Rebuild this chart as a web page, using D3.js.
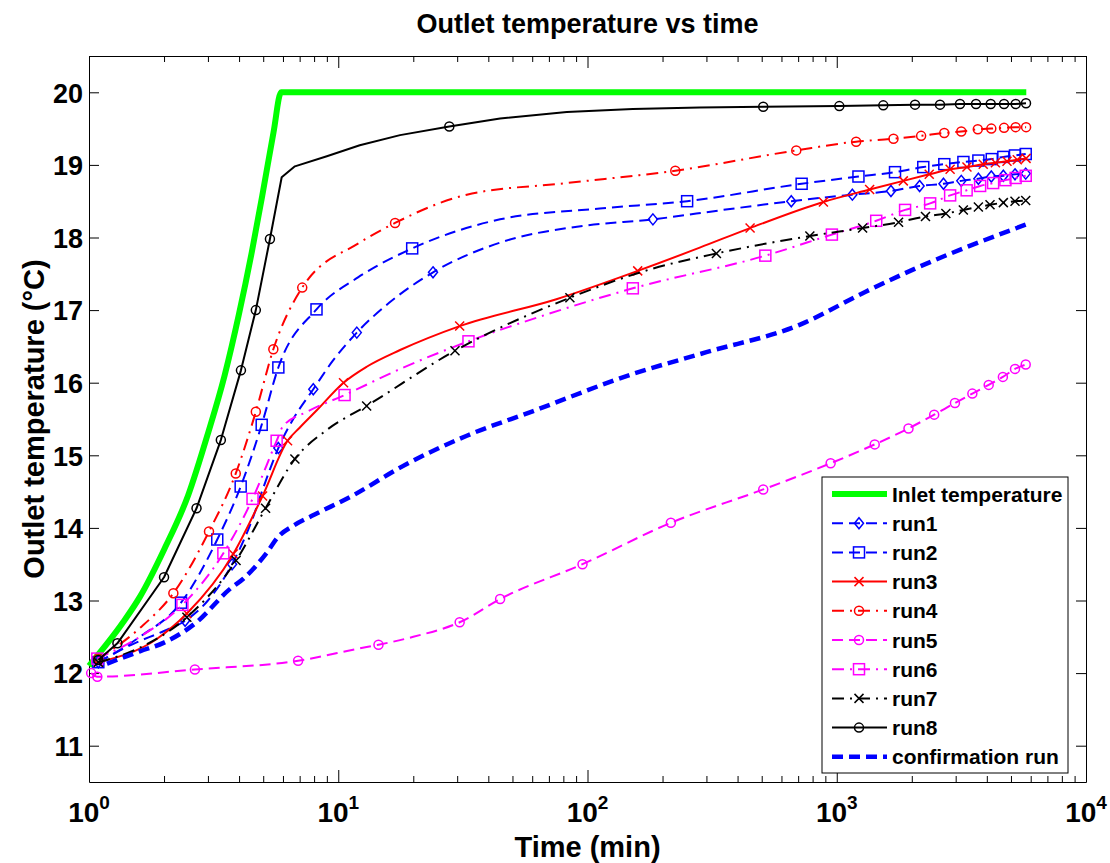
<!DOCTYPE html>
<html>
<head>
<meta charset="utf-8">
<script src="https://cdn.jsdelivr.net/npm/d3@7"></script>
<style>
body { margin: 0; background: #fff; }
text { font-family: 'Liberation Sans', Arial, sans-serif; font-weight: bold; }
</style>
</head>
<body>
<script>
// values: [time (min), temperature (°C)]
const xTicks = [1, 10, 100, 1000, 10000]
const xTickExp = ['0', '1', '2', '3', '4']
const yTicks = [11, 12, 13, 14, 15, 16, 17, 18, 19, 20]

const inlet = [[1, 12.1], [1.37, 12.7], [1.6, 13.05], [2, 13.7], [2.5, 14.45], [3, 15.3], [3.5, 16.1], [4, 16.95],
    [4.5, 17.8], [5, 18.65], [5.5, 19.45], [5.9, 20], [5760, 20]]

const run1_marks = [[1.09, 12.15], [2.43, 12.72], [3.75, 13.5], [5.75, 15.1], [7.94, 15.91], [11.87, 16.69], [24, 17.52],
    [183, 18.25], [657, 18.5], [1155, 18.59], [1650, 18.64], [2150, 18.71], [2680, 18.74], [3160, 18.78], [3700, 18.81],
    [4170, 18.84], [4660, 18.85], [5190, 18.87], [5730, 18.88]]
const run1_path = [[1.5, 12.4], [2, 12.58], [3, 13], [4.5, 14.1], [5, 14.55], [6.6, 15.5], [9.5, 16.3], [16, 17.1],
    [44.6, 17.93], [96, 18.16], [350, 18.38]]

const run2_marks = [[1.09, 12.15], [2.34, 12.97], [3.27, 13.84], [4.06, 14.57], [4.93, 15.42], [5.75, 16.21], [8.18, 17.01],
    [19.8, 17.85], [251, 18.5], [723, 18.74], [1222, 18.84], [1713, 18.9], [2224, 18.97], [2701, 19.01], [3222, 19.04],
    [3700, 19.06], [4187, 19.08], [4660, 19.11], [5190, 19.13], [5730, 19.15]]
const run2_path = [[1.6, 12.5], [12, 17.45], [44.6, 18.25], [112, 18.4]]

const run3_marks = [[1.09, 12.15], [2.47, 12.82], [3.79, 13.64], [4.97, 14.44], [6.26, 15.2], [10.5, 16], [30.7, 16.78],
    [159, 17.54], [449, 18.13], [884, 18.49], [1355, 18.66], [1850, 18.78], [2350, 18.87], [2850, 18.94], [3330, 18.97],
    [3870, 19.01], [4330, 19.03], [4820, 19.05], [5300, 19.07], [5750, 19.09]]
const run3_path = [[1.87, 12.47], [7, 15.38], [8.2, 15.62], [13, 16.22], [17.7, 16.45], [75, 17.15], [282, 17.86]]

const run4_marks = [[1.09, 12.2], [2.18, 13.1], [3.03, 13.95], [3.88, 14.75], [4.67, 15.6], [5.49, 16.46], [7.17, 17.31],
    [16.9, 18.2], [225, 18.92], [688, 19.2], [1196, 19.32], [1689, 19.36], [2180, 19.4], [2700, 19.44], [3160, 19.46],
    [3680, 19.49], [4170, 19.5], [4690, 19.51], [5220, 19.52], [5750, 19.52]]
const run4_path = [[1.6, 12.62], [12.2, 17.93], [32.8, 18.59], [82.6, 18.75]]

const run5_marks = [[1.02, 12], [1.08, 11.95], [2.66, 12.05], [6.9, 12.17], [14.5, 12.39], [30.7, 12.7], [44.6, 13.02],
    [95.5, 13.5], [216, 14.07], [507, 14.53], [945, 14.89], [1420, 15.15], [1940, 15.37], [2460, 15.56], [2980, 15.72],
    [3500, 15.85], [4070, 15.97], [4640, 16.08], [5190, 16.19], [5730, 16.25]]
const run5_path = [[12.2, 12.34], [20, 12.5]]

const run6_marks = [[1.08, 12.2], [2.37, 12.94], [3.46, 13.65], [4.53, 14.4], [5.66, 15.2], [10.6, 15.83], [33.3, 16.57],
    [152, 17.3], [517, 17.75], [956, 18.04], [1440, 18.23], [1880, 18.38], [2370, 18.47], [2850, 18.58], [3320, 18.65],
    [3760, 18.71], [4240, 18.75], [4750, 18.79], [5220, 18.82], [5730, 18.85]]
const run6_path = [[1.6, 12.5], [6, 15.4], [7.5, 15.6], [18, 16.2], [70, 16.95]]

const run7_marks = [[1.09, 12.15], [2.47, 12.77], [3.89, 13.55], [5.11, 14.27], [6.7, 14.95], [13, 15.68], [29.4, 16.44],
    [85, 17.17], [329, 17.78], [780, 18.02], [1270, 18.13], [1770, 18.21], [2270, 18.29], [2740, 18.33], [3220, 18.38],
    [3700, 18.42], [4120, 18.45], [4660, 18.48], [5190, 18.5], [5730, 18.51]]
const run7_path = [[1.6, 12.35], [9, 15.35], [178, 17.56]]

const run8_marks = [[1.09, 12.18], [1.3, 12.41], [2, 13.32], [2.7, 14.27], [3.38, 15.21], [4.07, 16.17], [4.67, 17],
    [5.32, 17.98], [27.9, 19.53], [507, 19.8], [1024, 19.81], [1537, 19.82], [2061, 19.83], [2596, 19.83], [3122, 19.84],
    [3620, 19.84], [4147, 19.84], [4690, 19.84], [5224, 19.84], [5745, 19.85]]
const run8_path = [[5.93, 18.83], [6.7, 18.98], [9, 19.12], [12.2, 19.27], [17.7, 19.41], [44.6, 19.64], [82.6, 19.73],
    [152, 19.77], [282, 19.79]]

const confirmation = [[1.18, 12.13], [1.6, 12.3], [2, 12.42], [2.7, 12.7], [3.68, 13.16], [4.16, 13.3], [5.17, 13.66],
    [5.75, 13.88], [6.6, 14.03], [8, 14.18], [11.5, 14.45], [17.7, 14.83], [32.8, 15.27], [60.6, 15.61], [152, 16.12],
    [300, 16.42], [713, 16.8], [1300, 17.25], [2090, 17.58], [5760, 18.18]]

const dashed = '11,6'
const dashdot = '12,6,2,6'

let series = [
    {name: 'Inlet temperature', path: inlet, marks: [], color: '#00ff00', width: 6, dash: null, marker: null},
    {name: 'run1', path: run1_path, marks: run1_marks, color: '#0000ff', width: 2, dash: dashed, marker: 'diamond'},
    {name: 'run2', path: run2_path, marks: run2_marks, color: '#0000ff', width: 2, dash: dashed, marker: 'square'},
    {name: 'run3', path: run3_path, marks: run3_marks, color: '#ff0000', width: 2, dash: null, marker: 'x'},
    {name: 'run4', path: run4_path, marks: run4_marks, color: '#ff0000', width: 2, dash: dashdot, marker: 'circle'},
    {name: 'run5', path: run5_path, marks: run5_marks, color: '#ff00ff', width: 2, dash: dashed, marker: 'circle'},
    {name: 'run6', path: run6_path, marks: run6_marks, color: '#ff00ff', width: 2, dash: dashdot, marker: 'square'},
    {name: 'run7', path: run7_path, marks: run7_marks, color: '#000000', width: 2, dash: dashdot, marker: 'x'},
    {name: 'run8', path: run8_path, marks: run8_marks, color: '#000000', width: 2, dash: null, marker: 'circle', linear: true},
    {name: 'confirmation run', path: confirmation, marks: [], color: '#0000ff', width: 4.5, dash: dashed, marker: null}
]

let W = 1110, H = 863
let pLeft = 89, pRight = 1086, pTop = 56, pBottom = 782

let svg = d3.select('body').append('svg').attr('width', W).attr('height', H)

let x = d3.scaleLog().domain([1, 10000]).range([pLeft, pRight])
let y = d3.scaleLinear().domain([10.5, 20.5]).range([pBottom, pTop])

let minorTicks = []
for (let k = 0; k < 4; k++) for (let m = 2; m <= 9; m++) minorTicks.push(m * Math.pow(10, k))

function styleAxis(g) {
    g.selectAll('path').attr('stroke', '#000').attr('stroke-width', 1)
    g.selectAll('line').attr('stroke', '#000').attr('stroke-width', 1)
}

// axes, ticks pointing inwards like MATLAB
svg.append('g').attr('transform', `translate(0,${pBottom})`)
    .call(d3.axisBottom(x).tickValues(xTicks).tickSizeInner(-12).tickSizeOuter(0).tickFormat(''))
    .call(styleAxis)
svg.append('g').attr('transform', `translate(0,${pBottom})`)
    .call(d3.axisBottom(x).tickValues(minorTicks).tickSizeInner(-6).tickSizeOuter(0).tickFormat(''))
    .call(g => g.select('.domain').remove()).call(styleAxis)
svg.append('g').attr('transform', `translate(0,${pTop})`)
    .call(d3.axisTop(x).tickValues(xTicks).tickSizeInner(-12).tickSizeOuter(0).tickFormat(''))
    .call(styleAxis)
svg.append('g').attr('transform', `translate(0,${pTop})`)
    .call(d3.axisTop(x).tickValues(minorTicks).tickSizeInner(-6).tickSizeOuter(0).tickFormat(''))
    .call(g => g.select('.domain').remove()).call(styleAxis)

let yAxisG = svg.append('g').attr('transform', `translate(${pLeft},0)`)
    .call(d3.axisLeft(y).tickValues(yTicks).tickSizeInner(-10).tickSizeOuter(0).tickPadding(6).tickFormat(d3.format('d')))
    .call(styleAxis)
yAxisG.attr('font-family', null)
yAxisG.selectAll('text').attr('font-size', 27).attr('fill', '#000').attr('dy', '0.36em')
svg.append('g').attr('transform', `translate(${pRight},0)`)
    .call(d3.axisRight(y).tickValues(yTicks).tickSizeInner(-10).tickSizeOuter(0).tickFormat(''))
    .call(styleAxis)

// x tick labels as 10^n
let xl = svg.append('g').selectAll('text').data(xTicks).join('text')
    .attr('x', d => x(d)).attr('y', 822).attr('text-anchor', 'middle').attr('font-size', 28)
xl.append('tspan').text('10')
xl.append('tspan').attr('font-size', 19).attr('dy', -13).text((d, i) => xTickExp[i])

// lines
let smooth = d3.line().x(d => x(d[0])).y(d => y(d[1])).curve(d3.curveMonotoneX)
let straight = d3.line().x(d => x(d[0])).y(d => y(d[1]))
let plot = svg.append('g')

function drawMarker(g, type, cx, cy, color) {
    if (type === 'circle') {
        g.append('circle').attr('cx', cx).attr('cy', cy).attr('r', 4.5)
            .attr('fill', 'none').attr('stroke', color).attr('stroke-width', 1.5)
    } else if (type === 'square') {
        g.append('rect').attr('x', cx - 5.5).attr('y', cy - 5.5).attr('width', 11).attr('height', 11)
            .attr('fill', 'none').attr('stroke', color).attr('stroke-width', 1.5)
    } else if (type === 'diamond') {
        g.append('path').attr('d', `M${cx},${cy - 5.5}L${cx + 4.5},${cy}L${cx},${cy + 5.5}L${cx - 4.5},${cy}Z`)
            .attr('fill', 'none').attr('stroke', color).attr('stroke-width', 1.5)
    } else if (type === 'x') {
        g.append('path').attr('d', `M${cx - 4.5},${cy - 4.5}L${cx + 4.5},${cy + 4.5}M${cx - 4.5},${cy + 4.5}L${cx + 4.5},${cy - 4.5}`)
            .attr('fill', 'none').attr('stroke', color).attr('stroke-width', 1.5)
    }
}

series.forEach(s => {
    let pts = s.path.concat(s.marks).sort((a, b) => a[0] - b[0])
    plot.append('path').datum(pts)
        .attr('d', s.linear ? straight : smooth)
        .attr('fill', 'none')
        .attr('stroke', s.color)
        .attr('stroke-width', s.width)
        .attr('stroke-dasharray', s.dash)
        .attr('stroke-linejoin', 'round')
    let mg = plot.append('g')
    s.marks.forEach(d => drawMarker(mg, s.marker, x(d[0]), y(d[1]), s.color))
})

// legend
let lg = svg.append('g')
lg.append('rect').attr('x', 822).attr('y', 477).attr('width', 246).attr('height', 296)
    .attr('fill', '#fff').attr('stroke', '#000').attr('stroke-width', 1)
series.forEach((s, i) => {
    let ry = 494 + i * 29.2
    lg.append('line').attr('x1', 832).attr('x2', 887).attr('y1', ry).attr('y2', ry)
        .attr('stroke', s.color).attr('stroke-width', s.width).attr('stroke-dasharray', s.dash)
    if (s.marker) drawMarker(lg, s.marker, 859, ry, s.color)
    lg.append('text').attr('x', 892).attr('y', ry).attr('dy', '0.36em').attr('font-size', 21).text(s.name)
})

// titles
svg.append('text').attr('x', (pLeft + pRight) / 2).attr('y', 33).attr('text-anchor', 'middle')
    .attr('font-size', 27).text('Outlet temperature vs time')
svg.append('text').attr('x', (pLeft + pRight) / 2).attr('y', 857).attr('text-anchor', 'middle')
    .attr('font-size', 29).text('Time (min)')
svg.append('text').attr('transform', `translate(44,${(pTop + pBottom) / 2}) rotate(-90)`).attr('text-anchor', 'middle')
    .attr('font-size', 29).text('Outlet temperature (°C)')
</script>
</body>
</html>
